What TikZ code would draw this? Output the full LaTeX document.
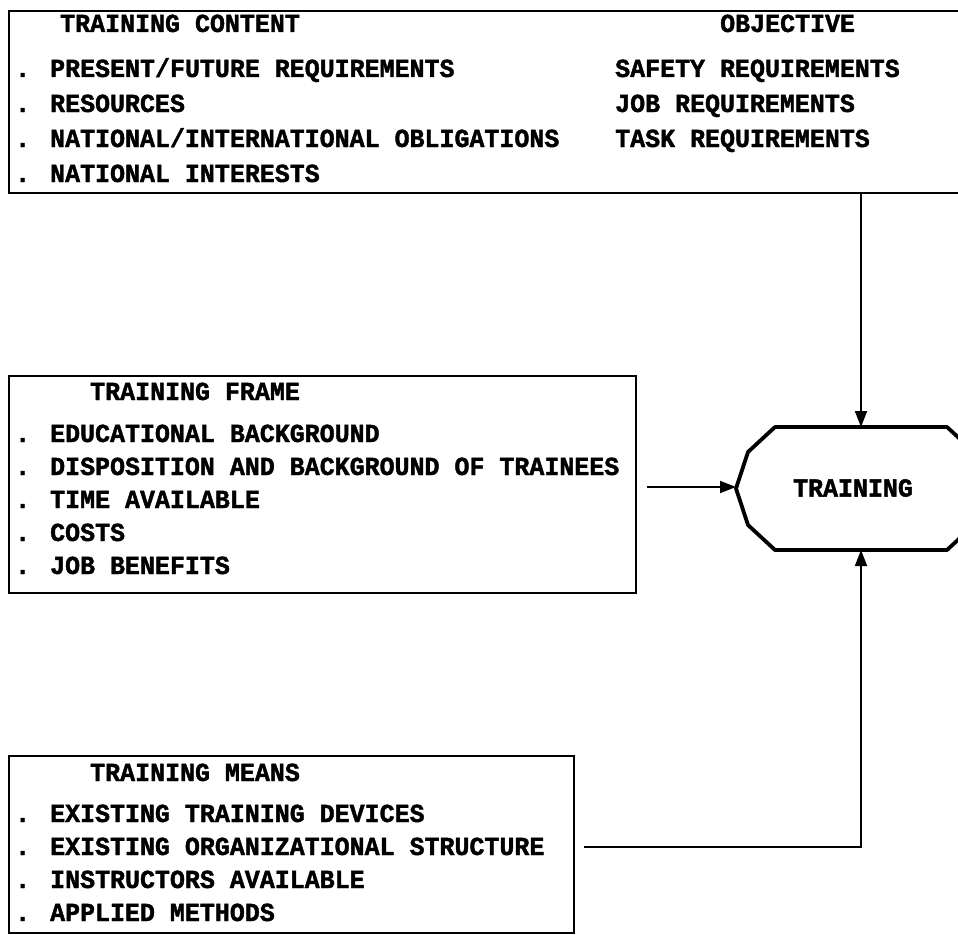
\documentclass[tikz,border=0pt]{standalone}
\usepackage{fontspec}
\newfontfamily\plotfont{Liberation Mono}[FakeStretch=0.96, FakeBold=1.6]
\usetikzlibrary{arrows.meta,calc}
\begin{document}
\begin{tikzpicture}[x=1pt,y=-1pt,
  txt/.style={anchor=base west, inner sep=0pt, font=\plotfont\bfseries\fontsize{26}{30}\selectfont},
  box/.style={draw, line width=1.8pt, inner sep=0pt, anchor=north west},
  conn/.style={line width=1.8pt, -{Triangle[length=16pt,width=12pt]}},
  outline/.style={line width=3.8pt, line join=round}]
\useasboundingbox (0,0) rectangle (958,934);
\clip (0,0) rectangle (958,934);
\fill[white] (0,0) rectangle (958,934);

% ---- boxes
\node[box, minimum width=1000pt, minimum height=182pt] (content) at (8,10) {};
\node[box, minimum width=627pt, minimum height=217pt] (frame) at (8,375) {};
\node[box, minimum width=565pt, minimum height=177pt] (means) at (8,755) {};

% ---- training content
\node[txt] (c0) at (60,32) {TRAINING CONTENT};
\node[txt] (c1) at (15,77) {. PRESENT/FUTURE REQUIREMENTS};
\node[txt] (c2) at (15,112) {. RESOURCES};
\node[txt] (c3) at (15,147) {. NATIONAL/INTERNATIONAL OBLIGATIONS};
\node[txt] (c4) at (15,182) {. NATIONAL INTERESTS};
\node[txt] (o0) at (720,32) {OBJECTIVE};
\node[txt] (o1) at (615,77) {SAFETY REQUIREMENTS};
\node[txt] (o2) at (615,112) {JOB REQUIREMENTS};
\node[txt] (o3) at (615,147) {TASK REQUIREMENTS};

% ---- training frame
\node[txt] (f0) at (90,400) {TRAINING FRAME};
\node[txt] (f1) at (15,442) {. EDUCATIONAL BACKGROUND};
\node[txt] (f2) at (15,475) {. DISPOSITION AND BACKGROUND OF TRAINEES};
\node[txt] (f3) at (15,508) {. TIME AVAILABLE};
\node[txt] (f4) at (15,541) {. COSTS};
\node[txt] (f5) at (15,574) {. JOB BENEFITS};

% ---- training means
\node[txt] (m0) at (90,781) {TRAINING MEANS};
\node[txt] (m1) at (15,822) {. EXISTING TRAINING DEVICES};
\node[txt] (m2) at (15,855) {. EXISTING ORGANIZATIONAL STRUCTURE};
\node[txt] (m3) at (15,888) {. INSTRUCTORS AVAILABLE};
\node[txt] (m4) at (15,921) {. APPLIED METHODS};

% ---- training node
\draw[outline] (775,427) -- (748,452) -- (736,488.5) -- (748,525) -- (775,550)
  -- (947,550) -- (974,525) -- (986,488.5) -- (974,452) -- (947,427) -- cycle;
\node[txt, anchor=center] (train) at (853,488) {TRAINING};
\coordinate (tTop) at (861,427);
\coordinate (tBot) at (861,550);
\coordinate (tLeft) at (736,487);
\coordinate (mrow) at (0,847);

% ---- connectors
\draw[conn] (content.south -| tTop) -- (tTop);
\draw[conn, shorten <=10pt] (frame.east |- tLeft) -- (tLeft);
\draw[conn, shorten <=9pt] (means.east |- mrow) -| (tBot);
\end{tikzpicture}
\end{document}
